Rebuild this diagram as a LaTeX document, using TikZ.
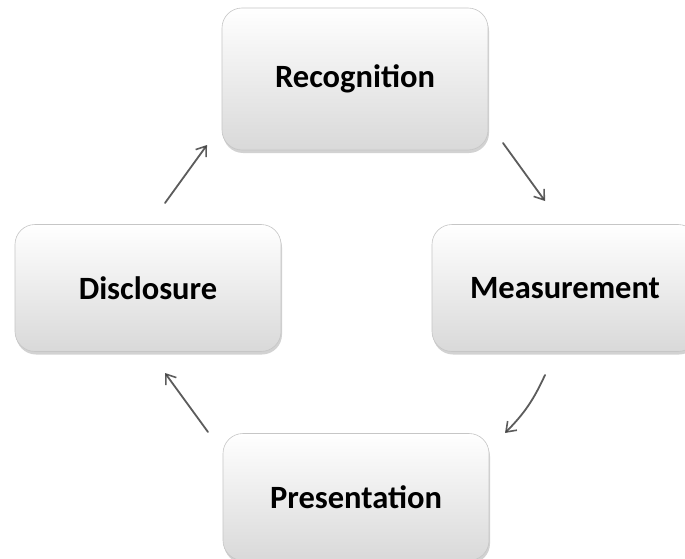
\documentclass[tikz,border=0pt]{standalone}
\usepackage{fontspec}
\setmainfont{Carlito}
\usetikzlibrary{shadows,arrows.meta}
\begin{document}
\begin{tikzpicture}[x=1pt, y=-1pt,
  stage/.style={rectangle, rounded corners=20pt, draw=gray!45, line width=0.6pt,
    top color=white, bottom color=gray!30, minimum width=266pt, minimum height=127pt,
    drop shadow={shadow xshift=1pt, shadow yshift=-3pt, opacity=0.35},
    font=\fontsize{32.5}{38}\selectfont\bfseries, text=black},
  sketch/.style={draw=black!75, line width=1.8pt, line cap=round, opacity=0.85,
    -{Straight Barb[length=9pt, width=13pt, line width=1.6pt]}}]
\useasboundingbox (0,0) rectangle (685,559);
\clip (0,0) rectangle (685,559);
\fill[white] (0,0) rectangle (685,559);
\node[stage, minimum height=142pt] (rec) at (355,79){Recognition};
\node[stage] (meas) at (565,288){Measurement};
\node[stage] (pres) at (356,497){Presentation};
\node[stage] (disc) at (148,288){Disclosure};
\coordinate (a1s) at (503,143);
\coordinate (a1e) at (545,201);
\coordinate (a2s) at (545,375);
\coordinate (a2e) at (505,433);
\coordinate (a3s) at (208,432);
\coordinate (a3e) at (165,373);
\coordinate (a4s) at (165,203);
\coordinate (a4e) at (207,145);
\draw[sketch](a1s) -- (a1e);
\draw[sketch](a2s) to[bend left=10] (a2e);
\draw[sketch](a3s) -- (a3e);
\draw[sketch](a4s) -- (a4e);
\end{tikzpicture}
\end{document}
